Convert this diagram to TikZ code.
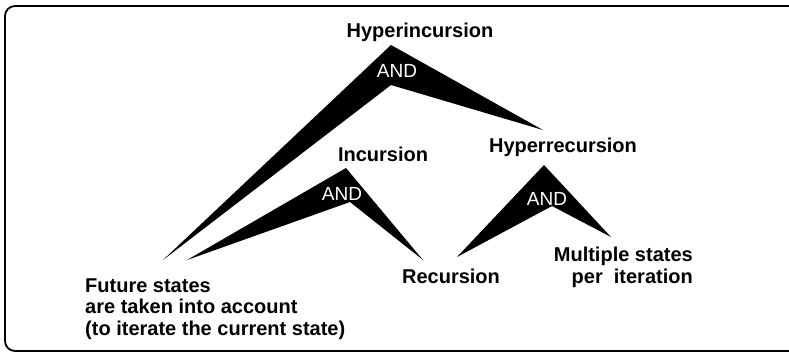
\documentclass[tikz,border=0pt]{standalone}
\usepackage{fontspec}
\setmainfont{Liberation Sans}

\tikzset{
  term/.style={font=\fontsize{20}{21.5}\selectfont\bfseries, inner sep=0pt},
  andtxt/.style={font=\fontsize{19}{20}\selectfont, text=white, inner sep=0pt, anchor=base},
  wedge/.style={fill=black},
}

\begin{document}
\begin{tikzpicture}[x=1pt,y=-1pt]
\useasboundingbox (0,0) rectangle (789,354);
\draw[line width=1.8pt, rounded corners=10pt] (789,6) -- (5,6) -- (5,351) -- (789,351);

% labels
\node[term, anchor=base] (hinc) at (420,37) {Hyperincursion};
\node[term, anchor=base] (inc) at (383,161) {Incursion};
\node[term, anchor=base] (hrec) at (563,152) {Hyperrecursion};
\node[term, anchor=base] (rec) at (451,283) {Recursion};
\node[term, anchor=base east, align=right] (mult) at (693,283) {Multiple states\\per\ \ iteration};
\node[term, anchor=base west, align=left] (fut) at (85,335) {Future states\\are taken into account\\(to iterate the current state)};

% wedge points
\coordinate (hinc-a) at (391,45);
\coordinate (hinc-n) at (391,85);
\coordinate (inc-a) at (346,168);
\coordinate (inc-n) at (350,202);
\coordinate (hrec-a) at (544,165);
\coordinate (hrec-n) at (552,206);
\coordinate (fut-t1) at (163,260);
\coordinate (fut-t2) at (187,260);
\coordinate (hrec-t) at (543,130);
\coordinate (rec-t1) at (423,260);
\coordinate (rec-t2) at (457,257);
\coordinate (mult-t) at (611,237);

\fill[wedge] (hinc-a) -- (hrec-t) -- (hinc-n) -- (fut-t1) -- cycle;
\fill[wedge] (inc-a) -- (rec-t1) -- (inc-n) -- (fut-t2) -- cycle;
\fill[wedge] (hrec-a) -- (mult-t) -- (hrec-n) -- (rec-t2) -- cycle;

\node[andtxt] (and1) at (397,77) {AND};
\node[andtxt] (and2) at (342,200) {AND};
\node[andtxt] (and3) at (547,205) {AND};
\end{tikzpicture}
\end{document}
